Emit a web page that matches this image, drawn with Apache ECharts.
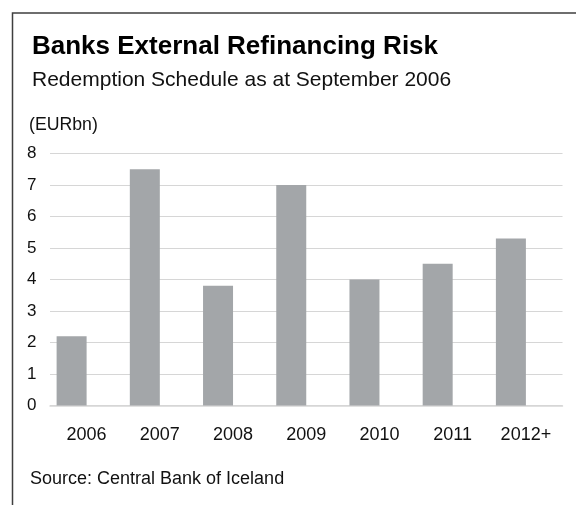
<!DOCTYPE html>
<html>
<head>
<meta charset="utf-8">
<script src="https://cdn.jsdelivr.net/npm/echarts@6/dist/echarts.min.js"></script>
<style>
  html, body { margin: 0; padding: 0; background: #fff; }
  #chart { width: 576px; height: 505px; }
</style>
</head>
<body>
<div id="chart"></div>
<script>
// Redemption schedule of Icelandic banks' external funding, EUR billions
const categories = ['2006', '2007', '2008', '2009', '2010', '2011', '2012+'];
const redemptions = [2.2, 7.5, 3.8, 7.0, 4.0, 4.5, 5.3];
// empty companion series: keeps each bar to the left half of its category slot
const spacer = [null, null, null, null, null, null, null];
const yTicks = { min: 0, max: 8, interval: 1 };

const FONT = "'Liberation Sans', Arial, Helvetica, sans-serif";

const chart = echarts.init(document.getElementById('chart'), null, { renderer: 'canvas' });

chart.setOption({
  animation: false,
  backgroundColor: '#ffffff',
  title: [
    {
      text: 'Banks External Refinancing Risk',
      left: 32, top: 34, padding: 0,
      textStyle: { fontFamily: FONT, fontSize: 26, fontWeight: 'bold', color: '#000', lineHeight: 26 }
    },
    {
      text: 'Redemption Schedule as at September 2006',
      left: 32, top: 70, padding: 0,
      textStyle: { fontFamily: FONT, fontSize: 21, fontWeight: 'normal', color: '#111', lineHeight: 21 }
    },
    {
      text: '(EURbn)',
      left: 29, top: 116.5, padding: 0,
      textStyle: { fontFamily: FONT, fontSize: 17.7, fontWeight: 'normal', color: '#111', lineHeight: 18 }
    },
    {
      text: 'Source: Central Bank of Iceland',
      left: 30, top: 470.5, padding: 0,
      textStyle: { fontFamily: FONT, fontSize: 18, fontWeight: 'normal', color: '#111', lineHeight: 18 }
    }
  ],
  graphic: [
    {
      type: 'polyline',
      silent: true,
      shape: { points: [[12.5, 505], [12.5, 13], [576, 13]] },
      style: { stroke: '#3f3f3f', lineWidth: 1.5, fill: null }
    }
  ],
  grid: { left: 50, right: 13.5, top: 153.5, bottom: 99.5 },
  xAxis: {
    type: 'category',
    data: categories,
    boundaryGap: true,
    axisTick: { show: false },
    axisLine: { show: true, lineStyle: { color: '#d6d6d6', width: 1.5 } },
    axisLabel: { margin: 21, fontFamily: FONT, fontSize: 18, color: '#111', lineHeight: 18 },
    splitLine: { show: false }
  },
  yAxis: {
    type: 'value',
    min: yTicks.min, max: yTicks.max, interval: yTicks.interval,
    axisLine: { show: false },
    axisTick: { show: false },
    axisLabel: { align: 'left', margin: 23, fontFamily: FONT, fontSize: 17, color: '#111' },
    splitLine: { show: true, lineStyle: { color: '#d6d6d6', width: 1.2 } }
  },
  series: [
    {
      name: 'Redemptions',
      type: 'bar',
      data: redemptions,
      barWidth: 30,
      barGap: '0%',
      itemStyle: { color: '#a3a6a9' },
      silent: true
    },
    {
      name: 'spacer',
      type: 'bar',
      data: spacer,
      barWidth: 30,
      barGap: '0%',
      itemStyle: { color: 'rgba(0,0,0,0)' },
      silent: true
    }
  ]
});
</script>
</body>
</html>
